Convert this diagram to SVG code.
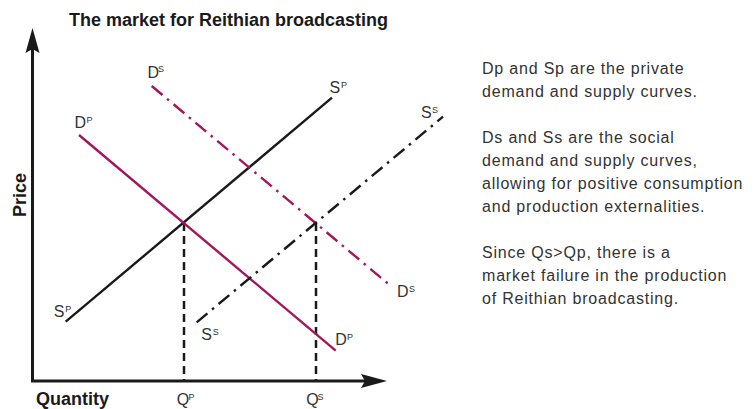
<svg xmlns="http://www.w3.org/2000/svg" width="754" height="409" viewBox="0 0 754 409">
<style>
text{font-family:"Liberation Sans",Arial,sans-serif;}
.ttl{font-size:18px;font-weight:bold;fill:#1a1a1a;}
.lbl{font-size:16px;fill:#333;}
.sup{font-size:9px;fill:#333;}
.note{font-size:16px;fill:#333;letter-spacing:0.8px;}
.axis{stroke:#1a1a1a;stroke-width:3;fill:none;}
.priv{fill:none;stroke-width:2.4;}
.soc{fill:none;stroke-width:2.4;stroke-dasharray:14 6 2.5 6;}
.blk{stroke:#1a1a1a;}
.mag{stroke:#a4165b;}
.vd{stroke:#1a1a1a;stroke-width:2.5;stroke-dasharray:8 5;fill:none;}
</style>
<rect width="754" height="409" fill="#fff"/>
<text class="ttl" x="69" y="26">The market for Reithian broadcasting</text>
<g id="axes">
<path class="axis" d="M32.5 48 V381 H366"/>
<polygon fill="#1a1a1a" points="32.5,28 39.5,53 32.5,49 25.5,53"/>
<polygon fill="#1a1a1a" points="387,381 361,374 365,381 361,388"/>
<text class="ttl" transform="translate(25.5,195) rotate(-90)" text-anchor="middle">Price</text>
<text class="ttl" x="36" y="405">Quantity</text>
</g>
<g id="connectors">
<line class="vd" x1="184" y1="223" x2="184" y2="380"/>
<line class="vd" x1="316" y1="223" x2="316" y2="380"/>
<line id="Sp" class="priv blk" x1="65.7" y1="321.7" x2="332" y2="97.7"/>
<line id="Dp" class="priv mag" x1="79" y1="135" x2="335.7" y2="350.7"/>
<line id="Ds" class="soc mag" x1="151.7" y1="86" x2="391.7" y2="286.7"/>
<line id="Ss" class="soc blk" x1="196.7" y1="322.3" x2="443" y2="116.7"/>
</g>
<g id="labels">
<text class="lbl" x="147.5" y="77.5">D<tspan class="sup" x="158" y="72">S</tspan></text>
<text class="lbl" x="329.5" y="92.5">S<tspan class="sup" x="341" y="87.5">P</tspan></text>
<text class="lbl" x="74.5" y="128.3">D<tspan class="sup" x="86.5" y="123.3">P</tspan></text>
<text class="lbl" x="421" y="118">S<tspan class="sup" x="432" y="113">S</tspan></text>
<text class="lbl" x="53.8" y="316.5">S<tspan class="sup" x="65.3" y="311.5">P</tspan></text>
<text class="lbl" x="201.2" y="340">S<tspan class="sup" x="212.7" y="335">S</tspan></text>
<text class="lbl" x="335.2" y="345">D<tspan class="sup" x="347" y="340">P</tspan></text>
<text class="lbl" x="397" y="297">D<tspan class="sup" x="409" y="292">S</tspan></text>
<text class="lbl" x="176.8" y="405">Q<tspan class="sup" x="188.5" y="400">P</tspan></text>
<text class="lbl" x="306.2" y="405">Q<tspan class="sup" x="317.5" y="400">S</tspan></text>
</g>
<g id="notes">
<text class="note" x="482" y="74">Dp and Sp are the private</text>
<text class="note" x="482" y="97">demand and supply curves.</text>
<text class="note" x="482" y="143">Ds and Ss are the social</text>
<text class="note" x="482" y="166">demand and supply curves,</text>
<text class="note" x="482" y="189">allowing for positive consumption</text>
<text class="note" x="482" y="212">and production externalities.</text>
<text class="note" x="482" y="258">Since Qs&gt;Qp, there is a</text>
<text class="note" x="482" y="281">market failure in the production</text>
<text class="note" x="482" y="304">of Reithian broadcasting.</text>
</g>
</svg>
